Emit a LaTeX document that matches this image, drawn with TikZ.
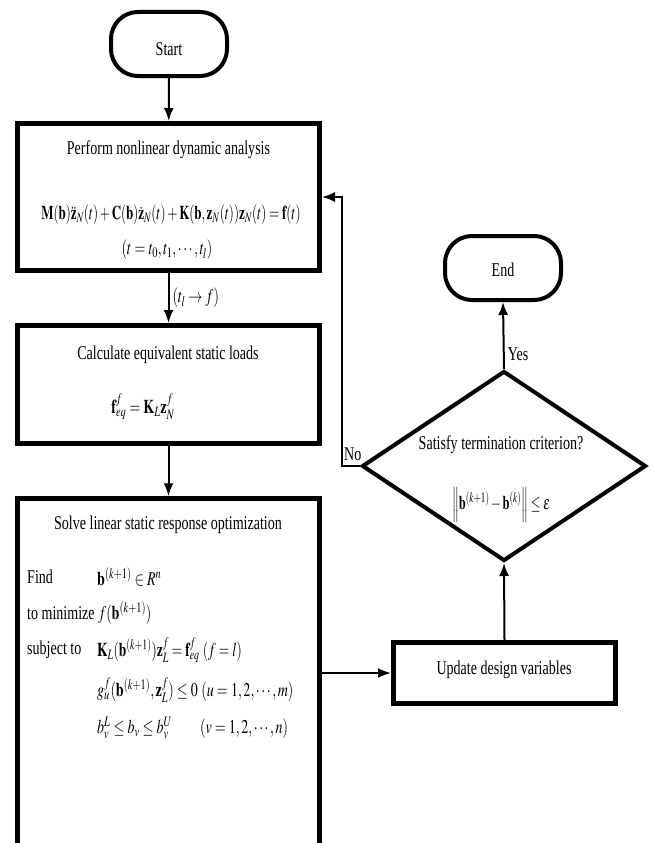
\documentclass[tikz,border=0pt]{standalone}
\usepackage{mathptmx}
\usepackage{fontspec}
\setmainfont{Liberation Serif}
\usepackage{graphicx}
\usetikzlibrary{arrows.meta,shapes.geometric}
\newcommand{\sq}[1]{\scalebox{0.72}[1]{#1}}
\newcommand{\sqm}[2]{\scalebox{#1}[1]{#2}}
\begin{document}
\begin{tikzpicture}[x=1pt,y=-1pt,
  box/.style={draw, line width=5pt, minimum width=302pt, inner sep=0pt},
  pill/.style={draw, line width=4pt, rounded corners=27pt, minimum width=116pt, minimum height=64pt, inner sep=0pt},
  decision/.style={draw, diamond, line width=4pt, minimum width=284pt, minimum height=190pt, inner sep=0pt},
  txt/.style={font=\fontsize{19.5}{23}\selectfont, inner sep=0pt},
  conn/.style={line width=2pt, -{Latex[length=13pt,width=10pt]}},
  thinconn/.style={line width=1.6pt, -{Latex[length=13pt,width=10pt]}}
]
\useasboundingbox (0,0) rectangle (654,843);
\fill[white] (0,0) rectangle (654,843);

% nodes
\node[pill] (start) at (169,44) {};
\node[txt] (starttxt) at (169,49) {\sq{Start}};

\node[box, minimum height=147pt] (b1) at (168.5,197) {};
\node[txt] (b1title) at (168.5,150) {\sq{Perform nonlinear dynamic analysis}};
\node[txt] (b1eq) at (171,215) {\sqm{0.665}{$\mathbf{M}(\mathbf{b})\ddot{\mathbf{z}}_N(t)+\mathbf{C}(\mathbf{b})\dot{\mathbf{z}}_N(t)+\mathbf{K}(\mathbf{b},\mathbf{z}_N(t))\mathbf{z}_N(t)=\mathbf{f}(t)$}};
\node[txt] (b1rng) at (167,250) {\sq{$(t=t_0,t_1,\cdots,t_l)$}};

\node[box, minimum height=118pt] (b2) at (168.5,384.5) {};
\node[txt] (b2title) at (168,355) {\sq{Calculate equivalent static loads}};
\node[txt] (b2eq) at (143,407) {\sq{$\mathbf{f}^f_{eq}=\mathbf{K}_L\mathbf{z}^f_N$}};

\node[box, minimum height=401pt] (b3) at (168.5,699.25) {};
\node[txt] (b3title) at (168,525) {\sq{Solve linear static response optimization}};
\node[txt, anchor=west] (l1) at (27,577) {\sq{Find}};
\node[txt, anchor=west] (l2) at (27,613) {\sq{to minimize}};
\node[txt, anchor=west] (l3) at (27,650) {\sq{subject to}};
\node[txt, anchor=west] (m1) at (97,577) {\sq{$\mathbf{b}^{(k+1)}\in R^n$}};
\node[txt, anchor=west] (m2) at (98,613) {\sq{$f(\mathbf{b}^{(k+1)})$}};
\node[txt, anchor=west] (m3) at (97,650) {\sqm{0.69}{$\mathbf{K}_L(\mathbf{b}^{(k+1)})\mathbf{z}^f_L=\mathbf{f}^f_{eq}\ (f=l)$}};
\node[txt, anchor=west] (m4) at (97,690) {\sq{$g^f_u(\mathbf{b}^{(k+1)},\mathbf{z}^f_L)\le 0\ (u=1,2,\cdots,m)$}};
\node[txt, anchor=west] (m5) at (97,728) {\sq{$b^L_v\le b_v\le b^U_v\qquad(v=1,2,\cdots,n)$}};

\node[box, minimum width=222pt, minimum height=61pt] (upd) at (504.5,673) {};
\node[txt] (updtxt) at (504,670) {\sq{Update design variables}};

\node[decision] (dec) at (504,466) {};
\node[txt] (dectxt) at (501,445) {\sq{Satisfy termination criterion?}};
\node[txt] (deceq) at (501,505) {\sqm{0.64}{$\left\|\mathbf{b}^{(k+1)}-\mathbf{b}^{(k)}\right\|\le\varepsilon$}};

\node[pill] (end) at (503,268) {};
\node[txt] (endtxt) at (503,270) {\sq{End}};

\coordinate (nocorner) at (342,466);

% connectors
\draw[conn] (start) -- (b1);
\draw[conn] (b1) -- node[txt, right=3pt, pos=0.5] (lab) {\sq{$(t_l\rightarrow f)$}} (b2);
\draw[conn] (b2) -- (b3);
\draw[conn] (b3.east |- upd.west) -- (upd.west);
\draw[conn] (upd.north) -- (dec.south);
\draw[conn] (dec.north) -- node[txt, right=3pt, pos=0.22] (yes) {\sq{Yes}} (end.south);
\draw[thinconn] (dec.west) -- (nocorner) |- (b1.east);
\node[txt, anchor=south west] (no) at (344,461) {\sq{No}};
\end{tikzpicture}
\end{document}
